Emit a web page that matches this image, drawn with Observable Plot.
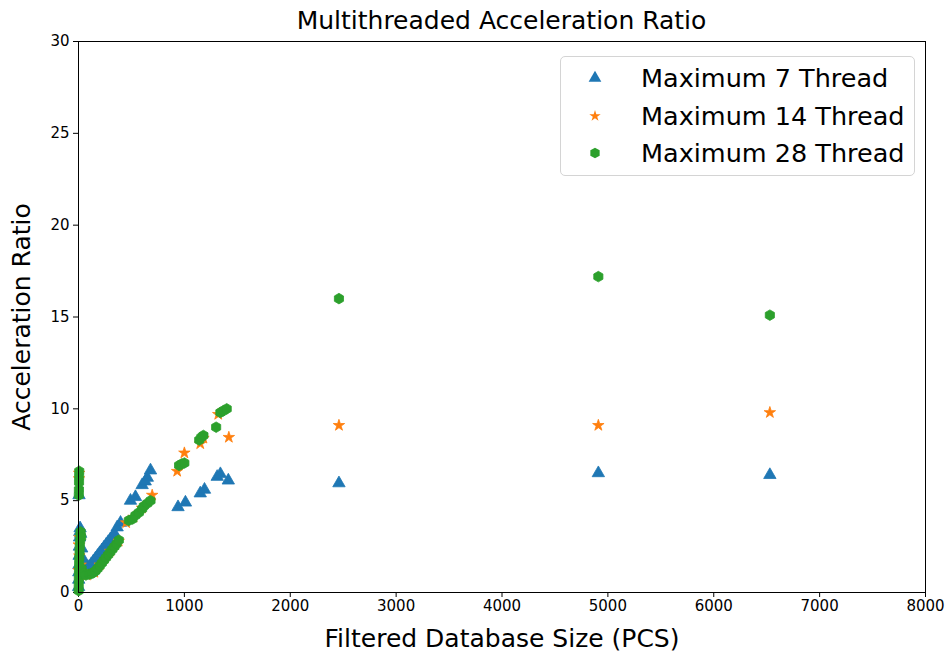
<!DOCTYPE html>
<html>
<head>
<meta charset="utf-8">
<script src="https://cdn.jsdelivr.net/npm/d3@7"></script>
<script src="https://cdn.jsdelivr.net/npm/@observablehq/plot@0.6"></script>
<style>
  body { margin: 0; background: #fff; font-family: "DejaVu Sans", sans-serif; }
  #wrap { position: relative; width: 952px; height: 661px; overflow: hidden; }
  #title { height: 34px; box-sizing: border-box; padding: 8px 27px 0 78px; text-align: center;
           font-size: 25px; color: #000; line-height: 26px; white-space: nowrap; }
  #legend { position: absolute; left: 560px; top: 56px; width: 355px; height: 120px; box-sizing: border-box;
            border: 1px solid #d4d4d4; border-radius: 5px; background: rgba(255,255,255,0.85); }
  .row { position: absolute; left: 0; height: 30px; display: flex; align-items: center; }
  .row svg { position: absolute; left: 24px; }
  .row span { position: absolute; left: 80px; font-size: 25.5px; white-space: nowrap; color: #000; }
</style>
</head>
<body>
<div id="wrap">
  <div id="title">Multithreaded Acceleration Ratio</div>
  <div id="chart"></div>
  <div id="legend"></div>
</div>
<script>
// ---- data ----
const seriesNames = ["Maximum 7 Thread", "Maximum 14 Thread", "Maximum 28 Thread"];
const seriesColors = ["#1f77b4", "#ff7f0e", "#2ca02c"];

const size7 = [1,2,3,4,5,6,8,10,12,15,20,30,45,60,80,100,120,140,160,180,200,220,240,260,280,300,320,340,365,397,491,538,601,630,650,680,940,1010,1150,1190,1310,1340,1415,2460,4910,6530];
const ratio7 = [0.3,0.7,1.1,1.5,5.3,2.0,2.5,3.0,3.3,3.5,3.2,2.4,1.8,1.5,1.35,1.4,1.55,1.7,1.85,2.0,2.15,2.3,2.45,2.6,2.75,2.9,3.05,3.2,3.55,3.8,5.0,5.2,5.85,6.05,6.25,6.65,4.65,4.9,5.4,5.6,6.3,6.45,6.1,5.95,6.5,6.4];

const size14 = [2,3,5,6,8,10,20,40,80,150,200,300,380,450,520,600,696,932,1000,1150,1180,1320,1420,2460,4910,6530];
const ratio14 = [1.2,2.6,6.2,6.5,2.0,3.0,1.5,1.1,0.95,1.1,1.5,2.25,2.8,3.8,4.1,4.6,5.3,6.6,7.6,8.1,8.4,9.7,8.45,9.1,9.1,9.8];

const size28 = [1,2,3,4,5,6,8,10,12,15,18,20,25,3,4,5,6,7,30,50,70,100,120,140,160,180,200,220,240,260,280,300,320,340,360,381,475,510,538,570,601,617,650,680,950,975,1000,1140,1160,1180,1300,1340,1370,1400,2460,4910,6530];
const ratio28 = [0.1,0.4,0.7,1.0,1.3,1.6,1.9,2.2,2.5,2.8,3.1,3.3,3.0,5.3,5.6,6.0,6.3,6.6,1.3,1.05,0.95,1.0,1.02,1.08,1.17,1.3,1.45,1.6,1.75,1.9,2.05,2.2,2.35,2.5,2.65,2.85,3.92,4.0,4.2,4.35,4.55,4.7,4.85,5.0,6.92,7.0,7.05,8.3,8.45,8.55,9.0,9.8,9.9,10.0,16.0,17.2,15.1];

const xTicks = [0,1000,2000,3000,4000,5000,6000,7000,8000];
const yTicks = [0,5,10,15,20,25,30];

// ---- build ----
const toRows = (xs, ys) => xs.map((x, i) => ({size: x, ratio: ys[i]}));
const rows7 = toRows(size7, ratio7);
const rows14 = toRows(size14, ratio14);
const rows28 = toRows(size28, ratio28);

const hexagon = {
  draw(context, size) {
    const R = Math.sqrt(size / (3 * Math.sqrt(3) / 2));
    for (let i = 0; i < 6; i++) {
      const a = Math.PI / 2 + i * Math.PI / 3;
      const x = R * Math.cos(a), y = R * Math.sin(a);
      if (i === 0) context.moveTo(x, y); else context.lineTo(x, y);
    }
    context.closePath();
  }
};

const font = '"DejaVu Sans", sans-serif';
const chart = Plot.plot({
  width: 952,
  height: 627,
  marginLeft: 78,
  marginRight: 27,
  marginTop: 7,
  marginBottom: 69,
  style: {fontFamily: font, fontSize: "15px", color: "#000", background: "transparent", overflow: "visible"},
  x: {domain: [0, 8000], ticks: xTicks},
  y: {domain: [0, 30], ticks: yTicks},
  marks: [
    Plot.axisX({ticks: xTicks, tickSize: 5, tickPadding: 3, fontSize: 15, tickFormat: d => String(d),
      label: "Filtered Database Size (PCS)", labelAnchor: "center", labelOffset: 54, labelArrow: "none"}),
    Plot.axisY({ticks: yTicks, tickSize: 5, tickPadding: 4, fontSize: 15, tickFormat: d => String(d),
      label: "Acceleration Ratio", labelAnchor: "center", labelOffset: 66, labelArrow: "none"}),
    Plot.dot(rows7, {x: "size", y: "ratio", symbol: "triangle", r: 4.6, fill: seriesColors[0], stroke: seriesColors[0], strokeWidth: 0.8}),
    Plot.dot(rows14, {x: "size", y: "ratio", symbol: "star", r: 3.6, fill: seriesColors[1], stroke: seriesColors[1], strokeWidth: 0.8}),
    Plot.dot(rows28, {x: "size", y: "ratio", symbol: hexagon, r: 4.8, fill: seriesColors[2], stroke: seriesColors[2], strokeWidth: 0.8}),
    Plot.frame({stroke: "#000", strokeWidth: 1, strokeOpacity: 1})
  ]
});
chart.querySelectorAll('[aria-label="x-axis label"] text, [aria-label="y-axis label"] text').forEach(t => {
  t.setAttribute("font-size", "25px");
});
document.getElementById("chart").appendChild(chart);

// legend
const legend = document.getElementById("legend");
const symbols = [d3.symbolTriangle, d3.symbolStar, hexagon];
const symSizes = [70, 40, 75];
seriesNames.forEach((name, i) => {
  const row = document.createElement("div");
  row.className = "row";
  row.style.top = (6 + i * 37.5) + "px";
  const svg = d3.create("svg").attr("width", 20).attr("height", 20).attr("viewBox", "-10 -10 20 20");
  svg.append("path").attr("d", d3.symbol(symbols[i], symSizes[i])()).attr("fill", seriesColors[i]);
  row.appendChild(svg.node());
  const span = document.createElement("span");
  span.textContent = name;
  row.appendChild(span);
  legend.appendChild(row);
});
</script>
</body>
</html>
